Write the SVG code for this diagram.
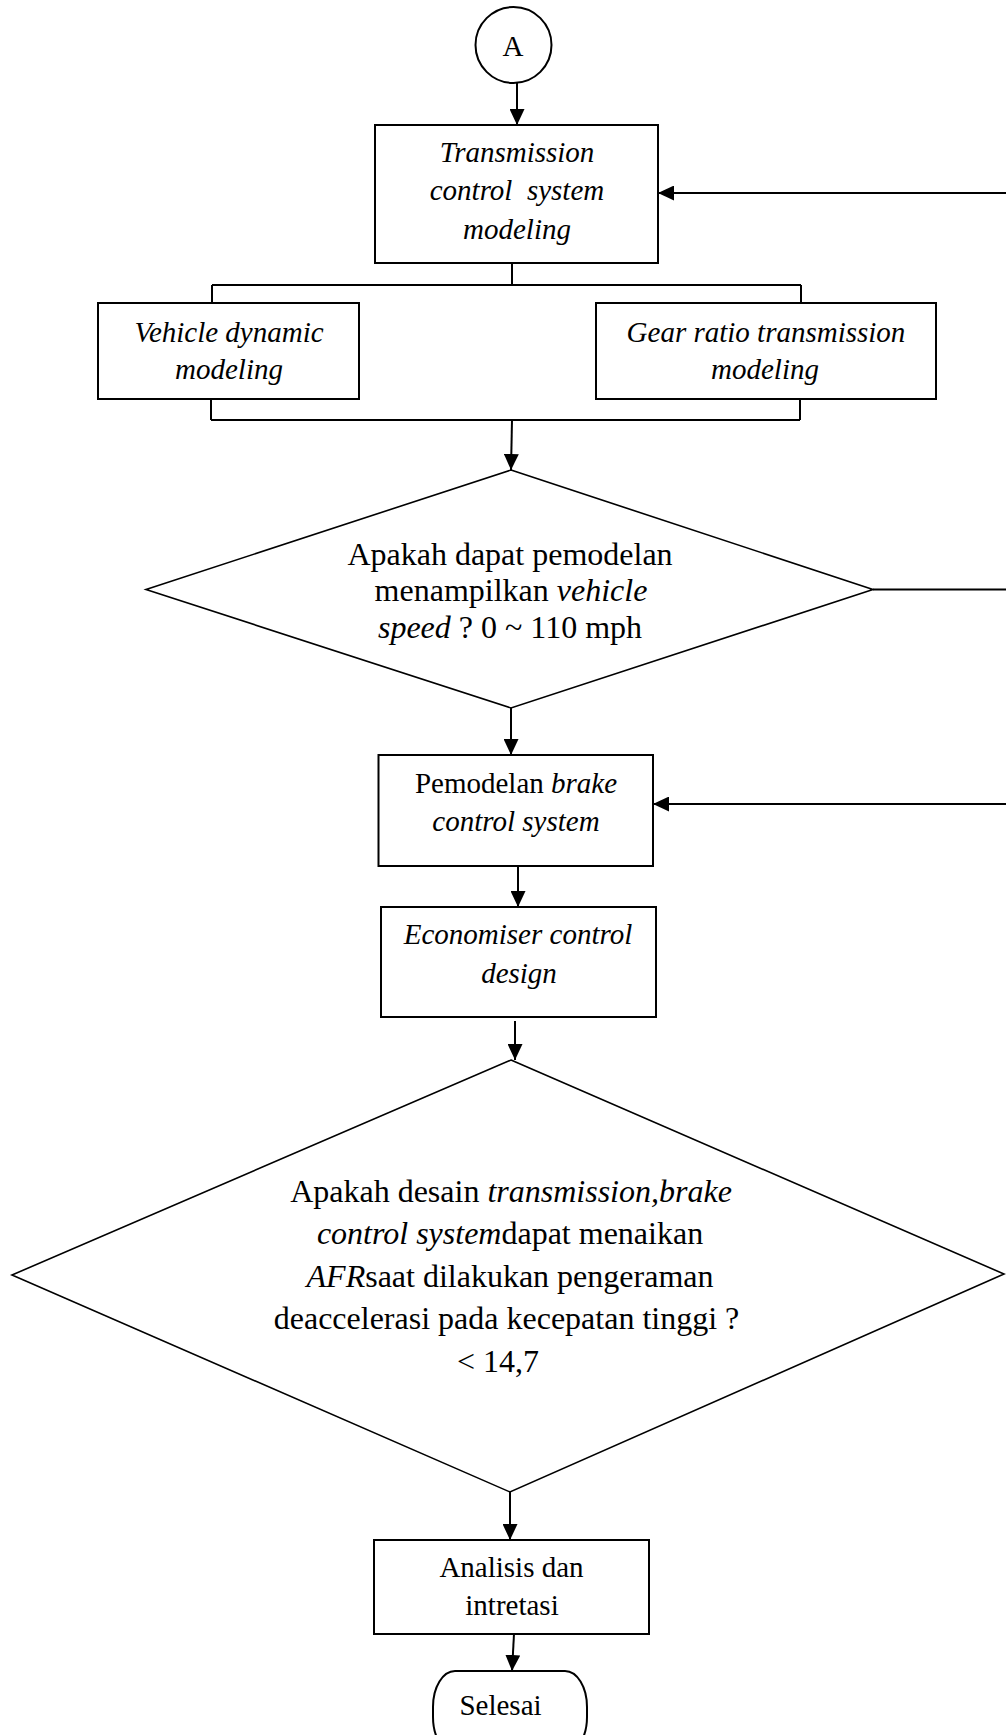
<svg xmlns="http://www.w3.org/2000/svg" width="1006" height="1735" viewBox="0 0 1006 1735">
<style>
  .box { fill: #fff; stroke: #000; stroke-width: 2; }
  .dia { fill: #fff; stroke: #000; stroke-width: 1.6; }
  .ln { fill: none; stroke: #000; stroke-width: 2; }
  .t { font-family: "Liberation Serif", "Times New Roman", serif; font-size: 29px; fill: #000; text-anchor: middle; }
  .td { font-size: 32px; }
  .i { font-style: italic; }
</style>
<defs>
  <marker id="ah" markerUnits="userSpaceOnUse" markerWidth="16" markerHeight="15" refX="16" refY="7.5" orient="auto">
    <path d="M0,0 L16,7.5 L0,15 z" fill="#000"/>
  </marker>
</defs>
<rect width="1006" height="1735" fill="#fff"/>

<g id="connectors">
  <line class="ln" x1="517" y1="83" x2="517" y2="125" marker-end="url(#ah)"/>
  <line class="ln" x1="1006" y1="193" x2="658" y2="193" marker-end="url(#ah)"/>
  <line class="ln" x1="512" y1="263" x2="512" y2="285" stroke-width="1.6"/>
  <line class="ln" x1="212" y1="285" x2="801" y2="285" stroke-width="1.6"/>
  <line class="ln" x1="212" y1="285" x2="212" y2="303" stroke-width="1.6"/>
  <line class="ln" x1="801" y1="285" x2="801" y2="303" stroke-width="1.6"/>
  <line class="ln" x1="211" y1="399" x2="211" y2="420" stroke-width="1.6"/>
  <line class="ln" x1="800" y1="399" x2="800" y2="420" stroke-width="1.6"/>
  <line class="ln" x1="211" y1="420" x2="800" y2="420" stroke-width="1.6"/>
  <line class="ln" x1="512" y1="420" x2="511" y2="470" stroke-width="1.6" marker-end="url(#ah)"/>
  <line class="ln" x1="873" y1="589.5" x2="1006" y2="589.5" stroke-width="1.6"/>
  <line class="ln" x1="511" y1="708" x2="511" y2="755" marker-end="url(#ah)"/>
  <line class="ln" x1="1006" y1="804" x2="653" y2="804" marker-end="url(#ah)"/>
  <line class="ln" x1="518" y1="866" x2="518" y2="907" marker-end="url(#ah)"/>
  <line class="ln" x1="515" y1="1021" x2="515" y2="1060" marker-end="url(#ah)"/>
  <line class="ln" x1="510" y1="1492" x2="510" y2="1540" marker-end="url(#ah)"/>
  <line class="ln" x1="514" y1="1634" x2="512" y2="1671" marker-end="url(#ah)"/>
</g>

<g id="node-A">
  <circle cx="513.5" cy="45" r="38" fill="#fff" stroke="#000" stroke-width="2"/>
  <text class="t" x="513" y="56" font-size="31">A</text>
</g>

<g id="node-tcs">
  <rect class="box" x="375" y="125" width="283" height="138"/>
  <text class="t i" x="517" y="162">Transmission</text>
  <text class="t i" x="517" y="200">control&#160; system</text>
  <text class="t i" x="517" y="239">modeling</text>
</g>

<g id="node-vehicle">
  <rect class="box" x="98" y="303" width="261" height="96"/>
  <text class="t i" x="229" y="342">Vehicle dynamic</text>
  <text class="t i" x="229" y="379">modeling</text>
</g>

<g id="node-gear">
  <rect class="box" x="596" y="303" width="340" height="96"/>
  <text class="t i" x="766" y="342">Gear ratio transmission</text>
  <text class="t i" x="765" y="379">modeling</text>
</g>

<g id="node-decision1">
  <polygon class="dia" points="511,470 873,589.5 511,708 146,589.5"/>
  <text class="t td" x="510" y="565">Apakah dapat pemodelan</text>
  <text class="t td" x="511" y="601">menampilkan <tspan class="i">vehicle</tspan></text>
  <text class="t td" x="510" y="638"><tspan class="i">speed</tspan> ? 0 ~ 110 mph</text>
</g>

<g id="node-brake">
  <rect class="box" x="378.5" y="755" width="274.5" height="111"/>
  <text class="t" x="516" y="793">Pemodelan <tspan class="i">brake</tspan></text>
  <text class="t i" x="516" y="831">control system</text>
</g>

<g id="node-economiser">
  <rect class="box" x="381" y="907" width="275" height="110"/>
  <text class="t i" x="518" y="944">Economiser control</text>
  <text class="t i" x="519" y="983">design</text>
</g>

<g id="node-decision2">
  <polygon class="dia" points="511,1060 1004,1274 510,1492 12,1275"/>
  <text class="t td" x="511" y="1202">Apakah desain <tspan class="i">transmission,brake</tspan></text>
  <text class="t td" x="510" y="1244"><tspan class="i">control system</tspan>dapat menaikan</text>
  <text class="t td" x="510" y="1287"><tspan class="i">AFR</tspan>saat dilakukan pengeraman</text>
  <text class="t td" x="506.5" y="1329">deaccelerasi pada kecepatan tinggi ?</text>
  <text class="t td" x="498" y="1372">&lt; 14,7</text>
</g>

<g id="node-analisis">
  <rect class="box" x="374" y="1540" width="275" height="94"/>
  <text class="t" x="511.5" y="1577">Analisis dan</text>
  <text class="t" x="512" y="1615">intretasi</text>
</g>

<g id="node-selesai">
  <rect class="box" x="433" y="1671" width="154" height="82" rx="22" ry="36"/>
  <text class="t" x="500.5" y="1715">Selesai</text>
</g>
</svg>
